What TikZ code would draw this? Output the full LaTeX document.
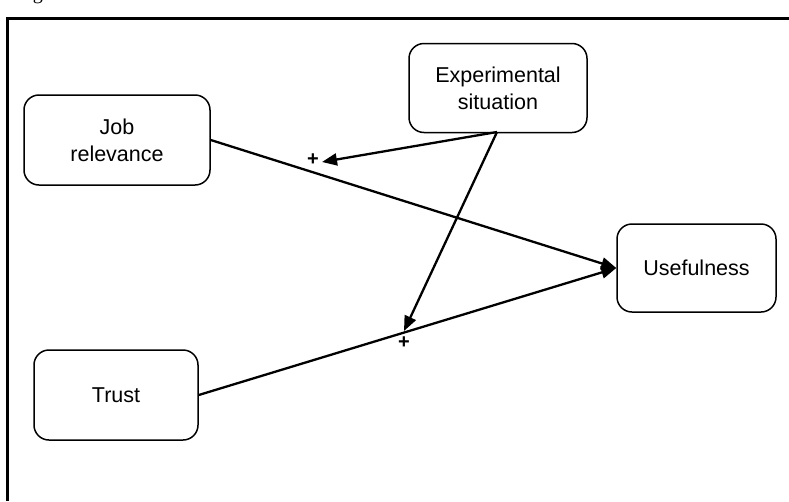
\documentclass[tikz,border=0pt]{standalone}
\usepackage{fontspec}
\setmainfont{Liberation Sans}
\newfontfamily\capfont{Liberation Serif}
\usetikzlibrary{arrows.meta}
\begin{document}
\begin{tikzpicture}[x=1pt,y=-1pt,
  box/.style={draw, line width=1.5pt, rounded corners=15pt, align=center,
    font=\fontsize{21.5}{27}\selectfont, inner sep=0pt},
  conn/.style={line width=2.3pt, -{Triangle[length=15pt,width=12pt]}},
  plus/.style={font=\fontsize{20}{20}\selectfont\bfseries, inner sep=0pt}]
\useasboundingbox (0,0) rectangle (789,501);
\begin{scope}
\clip (0,0) rectangle (789,16);
\node[anchor=base west, font=\capfont\fontsize{20}{20}\selectfont, inner sep=0pt] (cap) at (16,-1) {Fig};
\end{scope}
\draw[line width=3pt] (7,501) -- (7,18) -- (789,18);
\node[box, minimum width=186pt, minimum height=90pt] (job) at (117,140) {Job\\relevance};
\node[box, minimum width=178pt, minimum height=89pt] (es) at (498,88) {Experimental\\situation};
\node[box, minimum width=159pt, minimum height=88pt] (use) at (696.5,268) {Usefulness};
\node[box, minimum width=164pt, minimum height=90pt] (trust) at (116,395) {Trust};
\coordinate (m1) at (322,162);
\coordinate (m2) at (404,331);
\coordinate (src) at (497,132);
\draw[conn] (job.east) -- (use.west);
\draw[conn] (trust.east) -- (use.west);
\draw[conn] (src) -- (m1);
\draw[conn] (src) -- (m2);
\node[plus] (p1) at (313,160) {+};
\node[plus] (p2) at (404,343) {+};
\end{tikzpicture}
\end{document}
